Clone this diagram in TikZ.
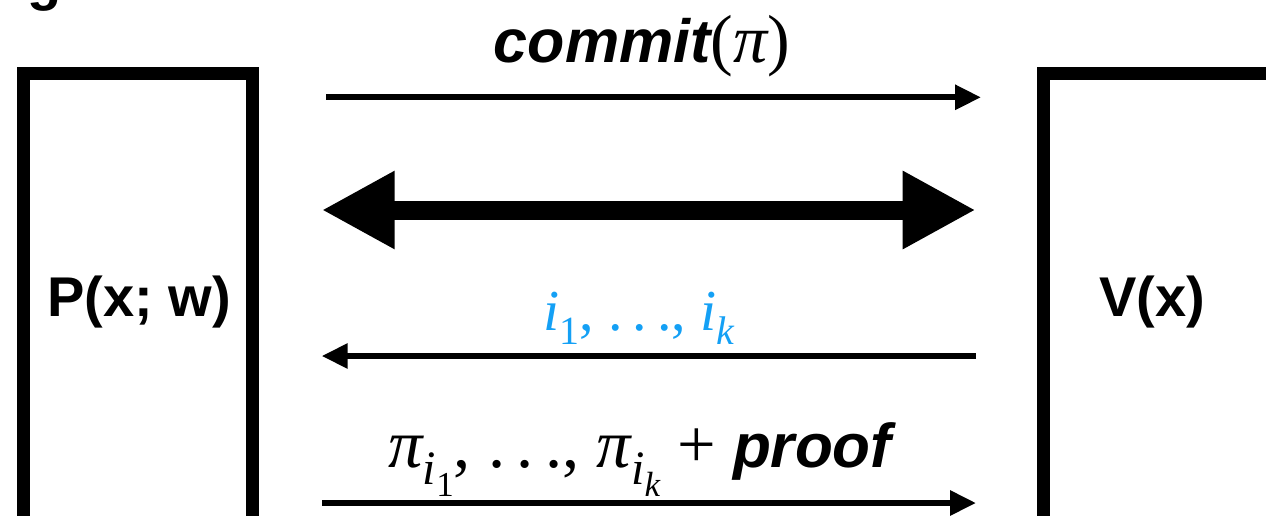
\documentclass[tikz,border=0pt]{standalone}
\usepackage{fontspec}
\setmainfont{Liberation Sans}
\newfontfamily\mth{Liberation Serif}
\usetikzlibrary{arrows.meta}
\definecolor{idxblue}{RGB}{20,160,245}
\newcommand\fs[1]{\fontsize{#1}{#1}\selectfont}
% subscript: #1 size, #2 content
\newcommand\lsub[2]{\raisebox{-0.25em}{\fs{#1}#2}}
\newcommand\mdots{\upshape.\kern0.17em.\kern0.17em.}
\begin{document}
\begin{tikzpicture}[x=1pt,y=-1pt,
  box/.style={draw, line width=13pt, fill=white, inner sep=0pt},
  lbl/.style={anchor=base, inner sep=0pt, font=\bfseries\fs{56}},
  mlbl/.style={anchor=base, inner sep=0pt, font=\fs{58}},
  thinarrow/.style={line width=6pt, -{Triangle[length=26pt,width=24pt]}},
  bigarrow/.style={line width=19pt, {Triangle[length=73pt,width=73pt]}-{Triangle[length=73pt,width=73pt]}}]
\useasboundingbox (0,0) rectangle (1266,515);
\clip (0,0) rectangle (1266,515);
% cropped title glyph
\node[anchor=base west, inner sep=0pt, font=\bfseries\fs{56}] (g) at (27,-1) {g};
% boxes
\node[box, minimum width=229pt, minimum height=460pt] (P) at (138,303.5) {};
\node[box, minimum width=260pt, minimum height=460pt] (V) at (1173.5,303.5) {};
\node[lbl] (Pl) at (139,316) {P(x; w)};
\node[lbl] (Vl) at (1152,316) {V(x)};
% connectors
\coordinate (a1s) at (326,97.3);  \coordinate (a1e) at (981,97.3);
\coordinate (a2s) at (321.7,210); \coordinate (a2e) at (975.7,210);
\coordinate (a3s) at (976,356);   \coordinate (a3e) at (321.7,356);
\coordinate (a4s) at (322,503);   \coordinate (a4e) at (976,503);
\draw[thinarrow] (a1s) -- (a1e);
\draw[bigarrow] (a2s) -- (a2e);
\draw[thinarrow] (a3s) -- (a3e);
\draw[thinarrow] (a4s) -- (a4e);
% labels
\node[lbl] (commit) at (642,62) {{\fs{61}\itshape commit}{\mth\mdseries\upshape\fs{68}(\itshape π\upshape)}};
\node[mlbl, text=idxblue] (idx) at (639,330) {\mth\itshape i\lsub{40}{\upshape 1}\upshape, \mdots, \itshape i\lsub{40}{k}};
\node[anchor=base, inner sep=0pt, font=\fs{68.5}] (pil) at (640,467) {\mth\itshape π\lsub{48}{i\lsub{35}{\upshape 1}}\upshape, \mdots, \itshape π\lsub{48}{i\lsub{35}{k}} \upshape+ {\fontspec{Liberation Sans}\bfseries\itshape\fs{62}proof}};
\end{tikzpicture}
\end{document}
